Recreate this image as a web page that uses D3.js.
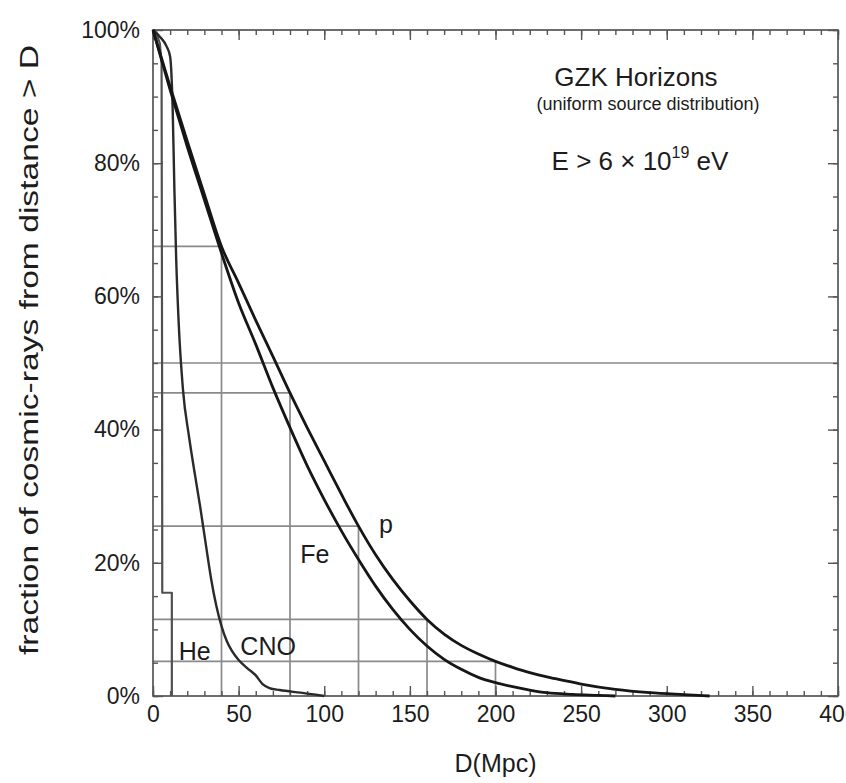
<!DOCTYPE html>
<html>
<head>
<meta charset="utf-8">
<script src="https://cdn.jsdelivr.net/npm/d3@7"></script>
<style>
  html, body { margin: 0; padding: 0; background: #fff; }
  svg text { font-family: "Liberation Sans", Arial, Helvetica, sans-serif; fill: #1c1c1c; }
</style>
</head>
<body>
<svg id="chart" width="846" height="783"></svg>
<script>
// Fraction of cosmic rays (E > 6e19 eV) arriving from distance > D, per species
const pD  = [0, 10, 20, 30, 40, 50, 60, 70, 80, 90, 100, 110, 120, 130, 140, 150, 160, 170, 180, 190, 200, 210, 220, 235, 250, 270, 290, 310, 325];
const pF  = [100, 91.5, 83.3, 75.3, 67.5, 62, 56.4, 51, 45.5, 40.3, 35.3, 30.3, 25.5, 21.2, 17.5, 14.3, 11.5, 9.3, 7.6, 6.3, 5.2, 4.3, 3.5, 2.6, 1.8, 1.0, 0.5, 0.2, 0];

const feD = [0, 10, 20, 30, 40, 50, 60, 70, 80, 90, 100, 110, 120, 130, 140, 150, 160, 170, 180, 190, 200, 210, 220, 230, 245, 260, 270];
const feF = [100, 91, 82.5, 74.5, 66.5, 59, 52.8, 46.3, 40.3, 34.6, 29.5, 24.8, 20.5, 16.5, 13, 10, 7.5, 5.5, 4, 2.8, 2, 1.4, 0.9, 0.5, 0.25, 0.1, 0];

const cnoD = [0, 4, 8, 10, 11.5, 12.5, 13.5, 15, 17.5, 21, 24, 27.5, 31, 34, 37, 40, 43, 46, 50, 55, 60, 64, 68, 74, 86, 95, 100];
const cnoF = [100, 99, 97.5, 96, 88, 76, 66, 56, 46, 39, 34, 28.5, 22.5, 17.5, 13.5, 10.5, 8.3, 6.8, 5.4, 4.2, 3.1, 1.8, 1.2, 0.9, 0.5, 0.2, 0];

const heD = [0, 2, 4, 5, 5.3, 5.4, 11, 11];
const heF = [100, 99.5, 98, 95, 50, 15.5, 15.5, 0];

// Horizon markers: distance and surviving fraction of the proton curve
const markD = [40, 80, 120, 160, 200];
const markF = [67.5, 45.5, 25.5, 11.5, 5.2];

const xMajor = [0, 50, 100, 150, 200, 250, 300, 350, 400];
const xLabels = ["0", "50", "100", "150", "200", "250", "300", "350", "400"];
const yMajor = [0, 20, 40, 60, 80, 100];
const yLabels = ["0%", "20%", "40%", "60%", "80%", "100%"];

const curveLabels = [
  { text: "p",   d: 132, f: 24.5 },
  { text: "Fe",  d: 86,  f: 20 },
  { text: "He",  d: 15,  f: 5.4 },
  { text: "CNO", d: 51,  f: 6.2 }
];

const svg = d3.select("#chart");
const L = 153, R = 838, T = 30, B = 696;
const x = d3.scaleLinear().domain([0, 400]).range([L, R]);
const y = d3.scaleLinear().domain([0, 100]).range([B, T]);

const gridColor = "#8a8a8a";

// 50% reference line
svg.append("line")
  .attr("x1", x(0)).attr("x2", x(400))
  .attr("y1", y(50)).attr("y2", y(50))
  .attr("stroke", gridColor).attr("stroke-width", 1.7);

// horizon boxes
const marks = markD.map((d, i) => ({ d, f: markF[i] }));
svg.append("g").selectAll("path").data(marks).join("path")
  .attr("d", m => `M${x(0)},${y(m.f)}H${x(m.d)}V${y(0)}`)
  .attr("fill", "none").attr("stroke", gridColor).attr("stroke-width", 1.7);

// frame
svg.append("rect")
  .attr("x", L).attr("y", T).attr("width", R - L).attr("height", B - T)
  .attr("fill", "none").attr("stroke", "#555").attr("stroke-width", 1.7);

// axes with inward ticks
function styleAxis(g) {
  g.select(".domain").remove();
  g.selectAll(".tick line").attr("stroke", "#555").attr("stroke-width", 1.4);
}
const xMinor = d3.range(0, 401, 10);
const yMinor = d3.range(0, 101, 5);

svg.append("g").attr("transform", `translate(0,${B})`)
  .call(d3.axisBottom(x).tickValues(xMinor).tickSize(-5).tickFormat(""))
  .call(styleAxis);
svg.append("g").attr("transform", `translate(0,${B})`)
  .call(d3.axisBottom(x).tickValues(xMajor).tickSize(-10).tickPadding(10)
    .tickFormat((d, i) => xLabels[i]))
  .call(styleAxis)
  .call(g => g.selectAll("text").attr("font-size", 23).attr("fill", "#1c1c1c"));

svg.append("g").attr("transform", `translate(0,${T})`)
  .call(d3.axisTop(x).tickValues(xMinor).tickSize(-5).tickFormat(""))
  .call(styleAxis);
svg.append("g").attr("transform", `translate(0,${T})`)
  .call(d3.axisTop(x).tickValues(xMajor).tickSize(-10).tickFormat(""))
  .call(styleAxis);

svg.append("g").attr("transform", `translate(${L},0)`)
  .call(d3.axisLeft(y).tickValues(yMinor).tickSize(-5).tickFormat(""))
  .call(styleAxis);
svg.append("g").attr("transform", `translate(${L},0)`)
  .call(d3.axisLeft(y).tickValues(yMajor).tickSize(-10).tickPadding(13)
    .tickFormat((d, i) => yLabels[i]))
  .call(styleAxis)
  .call(g => g.selectAll("text").attr("font-size", 23).attr("fill", "#1c1c1c"));

svg.append("g").attr("transform", `translate(${R},0)`)
  .call(d3.axisRight(y).tickValues(yMinor).tickSize(-5).tickFormat(""))
  .call(styleAxis);
svg.append("g").attr("transform", `translate(${R},0)`)
  .call(d3.axisRight(y).tickValues(yMajor).tickSize(-10).tickFormat(""))
  .call(styleAxis);

// curves
const smooth = d3.line().x(p => x(p[0])).y(p => y(p[1])).curve(d3.curveMonotoneX);
const straight = d3.line().x(p => x(p[0])).y(p => y(p[1]));
const series = [
  { D: heD,  F: heF,  color: "#505050", w: 2.2, gen: straight },
  { D: cnoD, F: cnoF, color: "#2a2a2a", w: 2.4, gen: smooth },
  { D: feD,  F: feF,  color: "#161616", w: 2.8, gen: smooth },
  { D: pD,   F: pF,   color: "#161616", w: 2.8, gen: smooth }
];
svg.append("g").selectAll("path").data(series).join("path")
  .attr("d", s => s.gen(s.D.map((d, i) => [d, s.F[i]])))
  .attr("fill", "none")
  .attr("stroke", s => s.color)
  .attr("stroke-width", s => s.w)
  .attr("stroke-linejoin", "round");

// curve labels
svg.append("g").selectAll("text").data(curveLabels).join("text")
  .attr("x", c => x(c.d)).attr("y", c => y(c.f))
  .attr("font-size", 25)
  .text(c => c.text);

// annotations
svg.append("text").attr("x", 636).attr("y", 86).attr("text-anchor", "middle")
  .attr("font-size", 26).text("GZK Horizons");
svg.append("text").attr("x", 648).attr("y", 110).attr("text-anchor", "middle")
  .attr("font-size", 18).attr("fill", "#333").text("(uniform source distribution)");
const e = svg.append("text").attr("x", 640).attr("y", 170).attr("text-anchor", "middle")
  .attr("font-size", 26);
e.append("tspan").text("E > 6 \u00d7 10");
e.append("tspan").attr("font-size", 16).attr("dy", -12).text("19");
e.append("tspan").attr("dy", 12).text(" eV");

// axis titles
svg.append("text").attr("x", (L + R) / 2).attr("y", 772).attr("text-anchor", "middle")
  .attr("font-size", 25).text("D(Mpc)");
svg.append("text")
  .attr("transform", `translate(38,350) rotate(-90)`)
  .attr("text-anchor", "middle").attr("font-size", 25)
  .attr("textLength", 610).attr("lengthAdjust", "spacingAndGlyphs")
  .text("fraction of cosmic-rays from distance > D");
</script>
</body>
</html>
